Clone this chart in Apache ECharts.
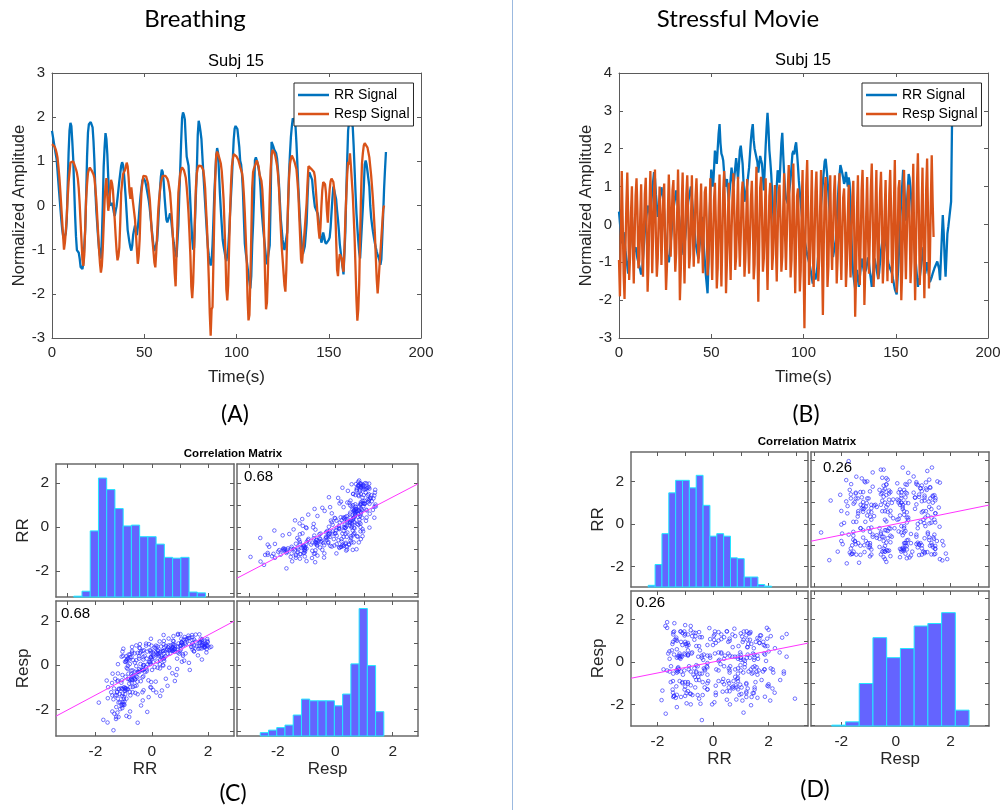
<!DOCTYPE html>
<html>
<head>
<meta charset="utf-8">
<script src="https://cdn.jsdelivr.net/npm/echarts@6/dist/echarts.min.js"></script>
<style>
  html, body { margin: 0; padding: 0; background: #ffffff; }
  #chart { width: 1006px; height: 810px; }
</style>
</head>
<body>
<div id="chart"></div>
<script>
// Sampling step of all signals (seconds)
const DT = 0.5;

// Breathing task, subject 15: normalized RR interval signal
const breathRR = [
  1.69,1.56,1.43,1.30,1.17,1.05,0.78,0.50,0.23,-0.04,
  -0.30,-0.53,-0.68,-0.76,-0.80,-0.62,-0.33,0.44,1.20,1.70,
  1.87,1.80,1.45,1.05,0.42,-0.20,-0.70,-1.01,-1.04,-1.07,
  -1.20,-1.39,-1.41,-1.44,-1.30,-0.92,-0.55,0.20,1.10,1.65,
  1.84,1.87,1.89,1.88,1.77,1.45,0.99,0.35,-0.10,-0.42,
  -0.73,-0.98,-1.14,-1.20,-0.76,-0.05,0.87,1.32,1.64,1.50,
  1.15,0.62,0.29,0.00,0.03,0.06,-0.03,-0.15,-0.24,-0.12,
  -0.02,0.16,0.36,0.56,0.73,0.90,0.98,0.92,0.73,0.45,
  0.15,-0.20,-0.55,-0.70,-0.84,-0.95,-1.02,-0.90,-0.66,-0.55,
  -0.45,-0.59,-0.67,-0.50,-0.29,-0.02,0.21,0.40,0.57,0.62,
  0.63,0.55,0.46,0.34,0.22,0.10,-0.07,-0.29,-0.51,-0.71,
  -0.92,-1.03,-1.06,-1.02,-0.80,-0.45,-0.04,0.35,0.65,0.81,
  0.76,0.55,0.20,-0.07,-0.32,-0.38,-0.42,-0.25,-0.18,-0.28,
  -0.49,-0.70,-0.85,-0.99,-1.07,-1.17,-1.20,-0.45,0.25,0.82,
  1.45,1.98,2.11,2.05,1.95,1.50,1.11,1.07,0.90,0.50,
  0.05,-0.38,-0.77,-1.00,-0.95,-0.35,0.25,0.80,1.60,1.92,
  1.82,1.67,1.50,1.12,0.75,0.40,0.05,-0.30,-0.65,-0.95,
  -1.13,-1.27,-1.36,-1.26,-0.90,-0.33,0.29,0.71,1.12,1.30,
  1.20,0.75,0.28,-0.10,-0.44,-0.77,-0.92,-1.04,-1.17,-1.26,
  -1.22,-0.97,-0.60,-0.18,0.21,0.60,1.07,1.50,1.74,1.80,
  1.76,1.73,1.71,1.33,1.01,0.93,0.70,0.30,-0.30,-0.86,
  -1.06,-1.23,-1.40,-1.57,-1.72,-1.88,-1.60,-0.90,-0.42,0.20,
  1.03,1.09,1.05,0.95,0.83,0.70,0.40,-0.02,-0.30,-0.55,
  -0.76,-0.97,-1.18,-1.33,-1.36,-1.30,-0.90,0.10,1.44,1.44,
  1.33,1.26,1.26,1.18,1.06,0.80,0.49,0.10,-0.30,-0.54,
  -0.78,-0.90,-1.01,-1.05,-1.00,-0.60,0.05,0.76,1.19,1.56,
  1.79,1.97,1.99,1.92,1.78,1.40,0.93,0.43,0.01,-0.39,
  -0.68,-0.94,-1.10,-1.08,-0.93,-0.68,-0.40,0.18,0.67,0.75,
  0.79,0.75,0.58,0.33,0.14,-0.03,-0.03,-0.05,-0.18,-0.33,
  -0.51,-0.69,-0.84,-0.77,-0.61,-0.70,-0.82,-0.87,-0.89,-0.83,
  -0.78,-0.72,-0.50,-0.16,0.16,0.43,0.45,0.41,0.14,-0.11,
  -0.32,-0.58,-0.88,-1.06,-1.23,-1.40,-1.56,-1.55,-0.60,0.30,
  1.03,1.70,1.87,1.97,1.97,1.94,1.78,1.35,0.82,0.30,
  -0.16,-0.50,-0.80,-1.06,-1.20,-0.81,-0.42,-0.03,0.42,0.93,
  1.02,0.93,0.77,0.60,0.43,-0.01,-0.28,-0.45,-0.60,-0.73,
  -0.85,-0.95,-1.04,-1.12,-1.18,-1.25,-1.34,-1.22,-0.73,-0.20,
  0.39,0.82,1.21
];

// Breathing task, subject 15: normalized respiration signal
const breathResp = [
  1.39,1.38,1.36,1.33,1.27,1.19,1.08,0.87,0.64,0.33,
  0.00,-0.34,-0.67,-1.00,-0.84,-0.58,-0.24,0.19,0.53,0.75,
  0.97,0.98,0.99,1.00,0.94,0.88,0.82,0.74,0.61,0.38,
  0.04,-0.39,-0.81,-1.23,-1.37,-1.12,-0.52,0.16,0.49,0.74,
  0.81,0.86,0.82,0.79,0.75,0.70,0.62,0.39,0.14,-0.24,
  -0.63,-1.00,-1.31,-1.52,-1.37,-1.00,-0.45,0.10,0.44,0.62,
  0.20,-0.12,0.04,0.30,0.58,0.51,0.36,0.03,-0.32,-0.69,
  -1.02,-1.24,-1.15,-0.94,-0.37,0.29,0.52,0.71,0.75,0.80,
  0.88,0.97,0.89,0.64,0.31,0.15,0.41,0.21,0.22,0.22,
  -0.32,-0.65,-0.99,-1.32,-1.14,-0.77,-0.12,0.32,0.51,0.67,
  0.69,0.70,0.66,0.62,0.51,0.33,0.14,-0.20,-0.55,-0.80,
  -1.04,-1.29,-1.40,-1.06,-0.64,-0.18,0.12,0.32,0.52,0.60,
  0.67,0.70,0.68,0.67,0.64,0.61,0.54,0.42,0.29,0.00,
  -0.31,-0.69,-1.09,-1.53,-1.83,-1.07,-0.38,0.29,0.52,0.72,
  0.81,0.86,0.83,0.80,0.72,0.63,0.42,0.15,-0.18,-0.62,
  -1.13,-1.83,-2.10,-1.75,-1.06,-0.22,0.41,0.73,0.85,0.90,
  0.89,0.86,0.89,0.89,0.80,0.63,0.39,-0.07,-0.47,-1.06,
  -1.68,-2.44,-2.95,-2.35,-2.30,-1.23,-0.15,0.65,1.14,1.22,
  1.17,1.10,1.07,0.95,0.78,0.48,0.14,-0.45,-1.10,-1.90,
  -2.15,-1.80,-0.95,-0.20,0.46,0.89,1.04,1.16,1.19,1.17,
  1.11,1.07,1.03,0.95,0.87,0.83,0.74,0.57,0.25,-0.17,
  -0.69,-1.23,-2.10,-2.60,-2.48,-1.70,-0.70,0.40,0.76,0.84,
  0.88,0.96,1.02,0.98,0.88,0.70,0.63,0.56,0.36,-0.05,
  -0.68,-1.65,-2.35,-2.20,-1.55,-0.62,0.20,0.80,1.13,1.26,
  1.23,1.19,1.13,1.02,0.90,0.70,0.40,-0.09,-0.51,-0.93,
  -1.22,-1.52,-1.81,-1.95,-1.45,-0.65,0.13,0.65,0.95,1.06,
  1.13,1.09,1.04,0.98,0.90,0.82,0.57,0.28,-0.22,-0.73,
  -1.23,-1.31,-1.05,-0.80,-0.53,-0.24,0.05,0.51,0.89,0.93,
  0.92,0.83,0.81,0.84,0.76,0.65,0.36,0.05,-0.28,-0.55,
  -0.75,-0.50,-0.03,0.35,0.53,0.56,0.48,0.28,-0.12,-0.39,
  0.05,0.37,0.55,0.61,0.58,0.53,0.35,-0.02,-0.75,-1.45,
  -1.60,-1.26,-1.10,-1.08,-1.20,-1.37,-1.50,-1.00,-0.30,0.22,
  0.70,0.99,0.93,1.18,0.90,0.57,0.25,-0.22,-0.72,-1.40,
  -2.12,-2.61,-2.35,-1.78,-0.70,0.25,0.95,1.19,1.36,1.41,
  1.40,1.37,1.31,1.20,1.09,0.88,0.67,0.40,0.11,-0.25,
  -0.63,-1.17,-1.67,-1.99,-1.70,-1.37,-1.06,-0.74,-0.42,-0.09,
  0.00
];

// Stressful movie, subject 15: normalized RR interval signal
const movieRR = [
  0.34,0.05,-0.22,-0.50,-0.35,-0.20,-0.45,-0.70,-0.90,-1.10,
  -1.30,-0.95,-0.60,-0.20,0.20,-0.40,-0.74,-0.67,-0.60,-0.75,
  -0.90,-1.00,-1.10,-1.20,-1.32,-1.26,-0.90,-0.55,-0.20,0.03,
  0.27,0.50,0.40,0.30,0.20,0.55,0.90,1.14,1.38,1.21,
  0.80,0.50,0.20,0.40,0.60,0.79,0.98,0.99,0.71,0.30,
  -0.20,-0.50,-0.80,-0.90,-1.00,-0.75,-0.50,-0.20,0.10,0.40,
  0.57,0.73,0.90,0.70,0.50,0.23,-0.03,-0.30,-0.47,-0.63,
  -0.80,-0.55,-0.30,0.00,0.30,0.60,0.73,0.87,1.00,0.70,
  0.40,0.10,-0.20,-0.50,-0.63,-0.77,-0.90,-0.65,-0.40,-0.10,
  0.20,-0.20,-0.60,-0.95,-1.30,-1.56,-1.82,-1.00,-0.10,0.80,
  1.45,1.43,1.00,1.47,1.95,1.91,1.60,2.00,2.40,2.65,
  2.15,1.87,1.80,1.68,1.35,1.00,1.06,1.20,0.90,0.60,
  0.90,1.20,1.50,1.25,1.00,1.25,1.50,1.75,1.48,1.20,
  1.57,1.96,2.08,1.83,1.60,1.10,0.60,0.74,0.89,1.05,
  1.28,1.50,1.86,2.23,2.49,2.65,2.22,2.00,2.00,2.00,
  1.65,1.37,1.60,1.81,1.70,1.60,1.25,0.90,1.49,2.08,
  2.55,2.95,2.55,1.96,1.67,1.33,0.85,0.37,-0.11,0.04,
  0.60,1.02,1.43,1.27,1.10,1.62,2.14,2.42,1.84,1.33,
  0.90,0.69,0.62,0.55,0.77,0.98,1.20,1.53,1.87,1.94,
  1.85,2.06,2.17,1.88,1.54,1.15,0.84,0.57,0.30,0.07,
  -0.17,-0.40,-0.53,-0.67,-0.80,-0.90,-1.00,-1.10,-1.25,-1.40,
  -1.56,-1.43,-1.30,-1.46,-1.43,-1.12,-0.80,-0.37,0.07,0.50,
  0.80,1.10,1.40,1.67,1.73,1.48,1.20,0.82,0.43,0.06,
  -0.29,-0.64,-0.86,-0.88,-0.90,-0.40,0.10,0.55,1.00,1.29,
  1.57,1.47,1.36,1.23,1.07,1.15,1.39,1.20,1.00,1.24,
  1.09,0.35,-0.33,-0.94,-1.32,-1.51,-1.70,-1.45,-1.20,-1.43,
  -1.65,-1.40,-1.15,-0.90,-1.03,-1.17,-1.30,-1.32,-1.17,-1.02,
  -0.87,-1.02,-1.25,-1.44,-1.65,-1.40,-1.15,-0.90,-1.03,-1.16,
  -1.30,-1.44,-1.27,-0.98,-0.70,-0.53,-0.37,-0.20,-0.33,-0.47,
  -0.60,-0.82,-1.03,-1.10,-1.17,-1.23,-1.30,-1.44,-1.57,-1.71,
  -1.78,-1.85,-1.43,-1.00,-0.40,0.20,0.61,1.03,1.44,1.11,
  0.60,0.10,0.12,0.92,1.33,1.22,0.95,0.58,0.20,-0.13,
  -0.47,-0.80,-1.08,-1.37,-1.65,-1.61,-1.40,-1.20,-1.00,-0.80,
  -0.60,-0.95,-1.30,-1.15,-1.00,-1.17,-1.34,-1.52,-1.48,-1.39,
  -1.30,-1.23,-1.15,-1.16,-1.14,-0.98,-1.00,-1.18,-1.47,-0.90,
  -0.32,0.25,-0.22,-0.88,-1.38,-0.81,-0.24,-0.06,-0.06,-0.02,
  0.60,2.67
];

// Stressful movie, subject 15: normalized respiration signal (one breath per row pair)
const movieResp = [
  -0.94,-1.90,-0.20,1.41,0.10,-1.30,-1.97,-0.60,0.55,
  1.37,0.20,-1.47,-0.85,0.30,  1.01,-0.55,-1.56,-0.30,0.75,
  1.22,0.35,-1.16,-0.95,0.20,  1.06,-0.45,-1.38,-0.20,0.80,
  1.23,-0.10,-1.78,-1.05,0.40,  1.41,0.40,-1.29,-0.25,0.85,
  1.45,-0.35,-1.38,-0.90,0.15,  1.00,0.25,-1.07,-0.15,0.70,
  1.08,-0.60,-1.73,-1.10,0.35,  1.32,0.45,-0.85,-0.05,0.90,
  1.17,-0.30,-1.25,-0.75,0.25,  1.45,0.10,-2.00,-1.20,0.55,
  1.37,-0.45,-1.56,-0.35,0.80,  1.30,0.30,-1.16,-0.80,0.10,
  1.30,-0.20,-1.12,-0.25,0.75,  1.22,0.40,-1.03,-0.70,0.30,
  1.08,-0.40,-1.29,-0.15,0.85,  1.00,0.15,-1.35,-0.95,0.20,
  1.22,-0.50,-1.47,-0.40,0.65,  1.10,0.05,-1.69,-1.15,0.45,
  1.32,-0.35,-1.64,-0.45,0.90,  1.41,0.20,-1.82,-1.00,0.15,
  1.10,-0.55,-1.47,-0.20,0.70,  1.35,0.35,-1.20,-0.85,0.35,
  1.26,-0.25,-1.12,-0.30,0.80,  1.13,0.10,-1.38,-0.90,0.25,
  1.20,-0.45,-1.30,-0.35,0.65,  1.15,0.25,-1.45,-1.05,0.50,
  1.52,-0.40,-2.04,-0.60,0.95,  1.26,0.30,-1.25,-0.90,0.20,
  1.22,-0.55,-1.73,-0.45,0.75,  1.10,0.20,-1.20,-0.80,0.30,
  1.04,-0.50,-1.51,-0.25,0.85,  1.05,0.15,-1.25,-0.85,0.40,
  1.35,-0.30,-1.20,-0.20,0.95,  1.57,0.45,-1.40,-0.95,0.35,
  1.61,-0.35,-1.82,-0.50,0.75,  0.95,-0.10,-1.77,-1.20,0.45,
  1.44,-0.90,-2.74,-0.70,1.05,  1.70,0.30,-1.60,-1.00,0.25,
  1.44,-0.45,-1.65,-0.40,0.85,  1.40,0.25,-1.50,-0.95,0.40,
  1.44,-0.70,-2.39,-0.55,0.90,  1.25,0.10,-1.65,-1.10,0.30,
  1.30,-0.40,-1.20,-0.20,0.80,  1.30,0.20,-1.56,-0.90,0.35,
  1.35,-0.45,-1.47,-0.35,0.70,  0.95,0.05,-1.65,-1.05,0.20,
  1.05,-0.50,-1.40,-0.30,0.75,  1.15,-0.20,-2.44,-1.30,0.40,
  1.30,-0.40,-1.60,-0.45,0.90,  1.44,0.15,-2.13,-1.15,0.30,
  1.25,-0.35,-1.30,-0.25,0.95,  1.61,0.35,-1.65,-0.95,0.40,
  1.44,-0.40,-1.45,-0.30,0.85,  1.39,0.25,-1.56,-1.00,0.35,
  1.17,-0.45,-1.50,-0.40,0.80,  1.44,0.30,-1.55,-0.90,0.50,
  1.70,-0.35,-1.80,-0.55,0.95,  1.17,0.05,-2.00,-1.20,0.40,
  1.44,-0.40,-1.45,-0.35,0.75,  1.05,0.20,-1.55,-1.00,0.45,
  1.60,-0.55,-2.00,-0.60,1.05,  1.88,0.40,-1.60,-0.90,0.35,
  1.50,-0.50,-1.95,-0.50,0.95,  1.74,0.25,-1.69,-0.95,0.55,
  1.83,0.60,-0.33
];

// Histogram bins of the correlation matrices (first edge, bin width, counts)
const breathRRHist   = { start: -2.77, width: 0.2925, counts: [1, 7, 80, 144, 130, 107, 86, 87, 73, 73, 64, 48, 47, 48, 6, 5] };
const breathRespHist = { start: -2.61, width: 0.2867, counts: [4, 7, 10, 13, 25, 44, 42, 42, 42, 36, 50, 86, 152, 84, 29] };
const movieRRHist    = { start: -2.33, width: 0.2467, counts: [2, 27, 64, 113, 128, 128, 119, 134, 98, 61, 64, 61, 35, 34, 12, 12, 3, 1] };
const movieRespHist  = { start: -2.35, width: 0.503,  counts: [1, 5, 51, 106, 82, 93, 120, 123, 136, 19] };

// Correlation coefficients between RR and respiration
const breathCorr = 0.68;
const movieCorr = 0.26;

// Tick labels
const timeTicks = [0, 50, 100, 150, 200];
const breathAmpTicks = [-3, -2, -1, 0, 1, 2, 3];
const movieAmpTicks = [-3, -2, -1, 0, 1, 2, 3, 4];
const matrixTicks = [-2, 0, 2];
const matrixMinorTicks = [-3, -2, -1, 0, 1, 2, 3];

const seriesNames = ['RR Signal', 'Resp Signal'];
const varNames = ['RR', 'Resp'];

// ---------------------------------------------------------------
const FONT = '"Liberation Sans", Arial, Helvetica, sans-serif';
const TXT = '#262626';
const BOX = '#5a5a5a';
const BLUE = '#0072BD';
const ORANGE = '#D95319';

const grid = [], xAxis = [], yAxis = [], series = [], legend = [], graphic = [];

function addGrid(l, t, w, h) {
  grid.push({ left: l, top: t, width: w, height: h });
  return grid.length - 1;
}

function addAxis(kind, gi, pos, range, ticks, labels, extra) {
  const inRange = ticks.filter(v => v >= range[0] && v <= range[1]);
  const ax = {
    type: 'value', gridIndex: gi, position: pos,
    min: range[0], max: range[1],
    axisLine: { show: true, onZero: false, lineStyle: { color: BOX, width: 1 } },
    axisTick: { show: true, inside: true, length: 4, customValues: inRange, lineStyle: { color: BOX, width: 1 } },
    axisLabel: labels
      ? { show: true, customValues: labels, color: TXT, fontFamily: FONT, fontSize: 15, margin: 7 }
      : { show: false },
    splitLine: { show: false }
  };
  Object.assign(ax, extra || {});
  const list = kind === 'x' ? xAxis : yAxis;
  list.push(ax);
  return list.length - 1;
}

function nameStyle(size) {
  return { color: TXT, fontFamily: FONT, fontSize: size };
}

function text(x, y, str, font, opts) {
  graphic.push({
    type: 'text', x: x, y: y,
    style: Object.assign({ text: str, font: font, fill: '#000', align: 'center', verticalAlign: 'middle' }, opts || {})
  });
}

// ---- Time-series panels -------------------------------------------------
function timePanel(rect, yRange, yTicks, rr, resp, titleXY, legendXY) {
  const gi = addGrid(rect[0], rect[1], rect[2], rect[3]);
  const xi = addAxis('x', gi, 'bottom', [0, 200], timeTicks, timeTicks, {
    name: 'Time(s)', nameLocation: 'middle', nameGap: 31, nameTextStyle: nameStyle(17)
  });
  addAxis('x', gi, 'top', [0, 200], timeTicks, null);
  const yi = addAxis('y', gi, 'left', yRange, yTicks, yTicks, {
    name: 'Normalized Amplitude', nameLocation: 'middle', nameGap: 24, nameTextStyle: nameStyle(16.5)
  });
  addAxis('y', gi, 'right', yRange, yTicks, null);

  [[rr, BLUE, seriesNames[0]], [resp, ORANGE, seriesNames[1]]].forEach(([vals, color, name], k) => {
    series.push({
      type: 'line', name: name, xAxisIndex: xi, yAxisIndex: yi,
      data: vals.map((v, i) => [i * DT, v]),
      symbol: 'none', showSymbol: false, clip: true,
      lineStyle: { color: color, width: 2.3 }, itemStyle: { color: color },
      z: 2 + k, animation: false
    });
  });

  legend.push({
    left: legendXY[0], top: legendXY[1], orient: 'vertical',
    data: seriesNames, selectedMode: false,
    icon: 'rect', itemWidth: 31, itemHeight: 2.5, itemGap: 3,
    padding: [4, 4, 4, 4],
    borderColor: TXT, borderWidth: 1, borderRadius: 0, backgroundColor: '#ffffff',
    textStyle: { color: '#000', fontFamily: FONT, fontSize: 14, lineHeight: 16 }
  });

  text(titleXY[0], titleXY[1], 'Subj 15', '16.5px ' + FONT, { fill: '#000' });
}

// ---- Correlation matrix panels ------------------------------------------
function matrixPanel(cfg) {
  const data = [cfg.rr, cfg.resp];
  const hists = [cfg.rrHist, cfg.respHist];
  const n = Math.min(cfg.rr.length, cfg.resp.length);
  const frame = { color: '#6a6a6a', width: 1.5 };
  for (let r = 0; r < 2; r++) {
    for (let c = 0; c < 2; c++) {
      const rect = cfg.cells[r][c];
      const gi = addGrid(rect[0], rect[1], rect[2], rect[3]);
      const xr = cfg.xRanges[c], yr = cfg.yRanges[r];
      const bottomRow = r === 1, leftCol = c === 0;
      const xi = addAxis('x', gi, 'bottom', xr,
        bottomRow ? matrixTicks : matrixMinorTicks,
        bottomRow ? matrixTicks : null,
        bottomRow ? { name: varNames[c], nameLocation: 'middle', nameGap: 23, nameTextStyle: nameStyle(17),
                      axisLabel: { show: true, customValues: matrixTicks, color: TXT, fontFamily: FONT, fontSize: 15.5, margin: 8 } } : {});
      const xt = addAxis('x', gi, 'top', xr, matrixMinorTicks, null);
      const yi = addAxis('y', gi, 'left', yr,
        leftCol ? matrixTicks : matrixMinorTicks,
        leftCol ? matrixTicks : null,
        leftCol ? { name: varNames[r], nameLocation: 'middle', nameGap: 24, nameTextStyle: nameStyle(17),
                    axisLabel: { show: true, customValues: matrixTicks, color: TXT, fontFamily: FONT, fontSize: 15.5, margin: 7 } } : {});
      const yt = addAxis('y', gi, 'right', yr, matrixMinorTicks, null);
      [xAxis[xi], xAxis[xt], yAxis[yi], yAxis[yt]].forEach(a => { a.axisLine.lineStyle = frame; });

      if (r === c) {
        // histogram of the variable on its own count axis
        const h = hists[r];
        const ci = yAxis.push({ type: 'value', gridIndex: gi, min: 0, max: cfg.countMax, show: false }) - 1;
        series.push({
          type: 'custom', xAxisIndex: xi, yAxisIndex: ci,
          data: h.counts.map((cnt, k) => [h.start + k * h.width, h.start + (k + 1) * h.width, cnt]),
          encode: { x: [0, 1], y: 2 },
          renderItem: function (params, api) {
            const p0 = api.coord([api.value(0), api.value(2)]);
            const p1 = api.coord([api.value(1), 0]);
            return {
              type: 'rect',
              shape: { x: p0[0], y: p0[1], width: p1[0] - p0[0], height: p1[1] - p0[1] },
              style: { fill: '#6464ff', stroke: '#22e6ff', lineWidth: 1 }
            };
          },
          z: 3, animation: false, silent: true
        });
      } else {
        const xs = data[c], ys = data[r];
        const pts = [];
        for (let i = 0; i < n; i++) pts.push([xs[i], ys[i]]);
        series.push({
          type: 'scatter', xAxisIndex: xi, yAxisIndex: yi, data: pts,
          symbol: 'circle', symbolSize: 3.6,
          itemStyle: { color: 'rgba(0,0,0,0)', borderColor: '#2626ff', borderWidth: 0.8 },
          z: 3, animation: false, silent: true
        });
        series.push({
          type: 'line', xAxisIndex: xi, yAxisIndex: yi,
          data: [[xr[0], cfg.corr * xr[0]], [xr[1], cfg.corr * xr[1]]],
          symbol: 'none', lineStyle: { color: '#ff33ff', width: 1 }, clip: true,
          z: 4, animation: false, silent: true
        });
        const lp = cfg.corrLabels[r];
        text(lp[0], lp[1], cfg.corr.toFixed(2), '15px ' + FONT, { align: 'left', fill: '#000' });
      }
    }
  }
  text(cfg.title[0], cfg.title[1], 'Correlation Matrix', 'bold 11.5px ' + FONT, { fill: '#000' });
}

// Panel A and B
timePanel([52, 73, 369, 265], [-3, 3], breathAmpTicks, breathRR, breathResp, [236, 61], [294, 83]);
timePanel([619, 73, 369, 265], [-3, 4], movieAmpTicks, movieRR, movieResp, [803, 60], [862, 83]);

// Panel C
matrixPanel({
  rr: breathRR, resp: breathResp, rrHist: breathRRHist, respHist: breathRespHist, corr: breathCorr,
  cells: [[[56, 464, 178, 133], [237, 464, 181, 133]], [[56, 601, 178, 135], [237, 601, 181, 135]]],
  xRanges: [[-3.4, 2.92], [-3.42, 2.88]],
  yRanges: [[-3.18, 2.86], [-3.21, 2.9]],
  countMax: 161,
  corrLabels: [[244, 477], [61, 614]],
  title: [233, 454]
});

// Panel D
matrixPanel({
  rr: movieRR, resp: movieResp, rrHist: movieRRHist, respHist: movieRespHist, corr: movieCorr,
  cells: [[[631, 452, 177, 135], [811, 452, 178, 135]], [[631, 591, 177, 135], [811, 591, 178, 135]]],
  xRanges: [[-2.95, 3.42], [-3.11, 3.41]],
  yRanges: [[-2.96, 3.38], [-3.02, 3.35]],
  countMax: 162,
  corrLabels: [[823, 468], [636, 603]],
  title: [807, 442]
});

// Figure headings, panel letters and the divider
const HEAD = 'Lato, "Open Sans", sans-serif';
text(195, 19, 'Breathing', '24px ' + HEAD);
text(738, 19, 'Stressful Movie', '24px ' + HEAD);
text(235, 415, '(A)', '23px ' + HEAD);
text(806, 415, '(B)', '23px ' + HEAD);
text(233, 794, '(C)', '23px ' + HEAD);
text(815, 790, '(D)', '23px ' + HEAD);
graphic.push({ type: 'line', shape: { x1: 512.5, y1: 0, x2: 512.5, y2: 810 }, style: { stroke: '#9bb9df', lineWidth: 1 } });

const chart = echarts.init(document.getElementById('chart'), null, { renderer: 'canvas' });
chart.setOption({
  backgroundColor: '#ffffff',
  animation: false,
  grid: grid, xAxis: xAxis, yAxis: yAxis, series: series, legend: legend, graphic: graphic
});
</script>
</body>
</html>
